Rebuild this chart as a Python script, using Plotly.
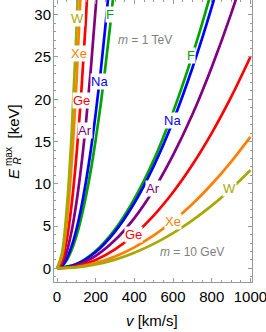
import plotly.graph_objects as go

# ---- data ----
elements = ["W", "Xe", "Ge", "Ar", "Na", "F"]
colors = {"W": "#A8A800", "Xe": "#FF8000", "Ge": "#FF0000",
          "Ar": "#800080", "Na": "#0000FF", "F": "#00A400"}

# m = 1 TeV curves (keV vs km/s)
v_tev = [0, 25, 50, 75, 100, 125, 150, 175, 200, 225, 250, 275, 300]
E_tev = {
    "W":  [0, 1.74, 6.95, 15.6, 27.8, 43.4],
    "Xe": [0, 1.35, 5.40, 12.2, 21.6, 33.8],
    "Ge": [0, 0.83, 3.30, 7.43, 13.2, 20.6, 29.7, 40.5],
    "Ar": [0, 0.48, 1.93, 4.33, 7.70, 12.0, 17.3, 23.6, 30.8, 39.0],
    "Na": [0, 0.29, 1.14, 2.57, 4.57, 7.14, 10.3, 14.0, 18.3, 23.1, 28.6, 34.5],
    "F":  [0, 0.24, 0.95, 2.14, 3.80, 5.94, 8.55, 11.6, 15.2, 19.2, 23.8, 28.7, 34.2],
}

# m = 10 GeV curves
v_gev = [0, 100, 200, 300, 400, 500, 600, 700, 800, 900, 1000]
E_gev = {
    "W":  [0, 0.12, 0.46, 1.04, 1.86, 2.90, 4.18, 5.68, 7.42, 9.40, 11.6],
    "Xe": [0, 0.16, 0.62, 1.40, 2.49, 3.89, 5.60, 7.62, 9.95, 12.6, 15.55],
    "Ge": [0, 0.25, 1.00, 2.25, 4.00, 6.25, 9.00, 12.25, 16.0, 20.25, 25.0],
    "Ar": [0, 0.37, 1.49, 3.35, 5.95, 9.30, 13.4, 18.2, 23.8, 30.1, 37.2],
    "Na": [0, 0.48, 1.93, 4.35, 7.73, 12.1, 17.4, 23.7, 30.9, 39.1],
    "F":  [0, 0.51, 2.05, 4.62, 8.22, 12.8, 18.5, 25.2, 32.9, 41.6],
}

x_ticks = [0, 200, 400, 600, 800, 1000]
y_ticks = [0, 5, 10, 15, 20, 25, 30]

# label positions (v, E)
lab_tev = {"W": (106, 29.6), "Xe": (115, 25.4), "Ge": (128, 19.8),
           "Ar": (145, 16.3), "Na": (222, 22.1), "F": (274, 30.0)}
lab_gev = {"W": (893, 9.4), "Xe": (598, 5.55), "Ge": (394, 3.98),
           "Ar": (495, 9.4), "Na": (596, 17.5), "F": (694, 25.2)}

FONT = "Liberation Sans, Arial, sans-serif"
FRAME = "#9a9a9a"

fig = go.Figure()
for el in reversed(elements):
    for vv, EE in ((v_gev, E_gev[el]), (v_tev, E_tev[el])):
        fig.add_trace(go.Scatter(
            x=vv[:len(EE)], y=EE, mode="lines",
            line=dict(color=colors[el], width=2.7, shape="spline"),
            showlegend=False, hoverinfo="skip"))

ann = []
for lab in (lab_tev, lab_gev):
    for el, (x, y) in lab.items():
        ann.append(dict(x=x, y=y, xref="x", yref="y", text=el, showarrow=False,
                        xanchor="center", yanchor="middle",
                        font=dict(family=FONT, size=13, color=colors[el]),
                        bgcolor="white", borderpad=0))

ann.append(dict(x=455, y=27.0, xref="x", yref="y", text="<i>m</i> = 1 TeV",
                xanchor="center", yanchor="middle",
                showarrow=False, font=dict(family=FONT, size=12, color="#808080")))
ann.append(dict(x=700, y=1.9, xref="x", yref="y", text="<i>m</i> = 10 GeV",
                xanchor="center", yanchor="middle",
                showarrow=False, font=dict(family=FONT, size=12, color="#808080")))

# axis titles (pixel -> paper conversion)
L, W_, H_ = 54, 198, 282.0
def px(xp): return (xp - L) / W_
def py(yp): return (H_ - yp) / H_

def title_piece(x, y, text, size, angle=0):
    return dict(x=px(x), y=py(y), xref="paper", yref="paper", text=text,
                textangle=angle, showarrow=False, xanchor="center", yanchor="middle",
                font=dict(family=FONT, size=size, color="black"))

ann.append(title_piece(152, 320, "<i>v</i> [km/s]", 15))
ann.append(title_piece(13.5, 173.5, "<i>E</i>", 15, -90))
ann.append(title_piece(8.5, 156.5, "max", 10, -90))
ann.append(title_piece(17.0, 161.5, "<i>R</i>", 10, -90))
ann.append(title_piece(13.5, 122, "[keV]", 15, -90))

axis_common = dict(showline=True, linecolor=FRAME, linewidth=1, mirror="ticks",
                   ticks="inside", ticklen=4, tickcolor=FRAME, tickwidth=1,
                   showgrid=False, zeroline=False, ticklabeloverflow="allow")

fig.update_layout(
    width=266, height=332,
    margin=dict(l=54, r=14, t=0, b=50),
    paper_bgcolor="white", plot_bgcolor="white",
    xaxis=dict(range=[-15.5, 1008.3], tickvals=x_ticks, ticklabelstandoff=1,
               tickfont=dict(family=FONT, size=15, color="black"),
               minor=dict(dtick=50, tick0=0, ticks="inside", ticklen=2, tickcolor=FRAME),
               **axis_common),
    yaxis=dict(range=[-1.61, 31.74], tickvals=y_ticks, ticklabelstandoff=-1,
               tickfont=dict(family=FONT, size=15, color="black"),
               minor=dict(dtick=1, tick0=0, ticks="inside", ticklen=2, tickcolor=FRAME),
               **axis_common),
    annotations=ann,
)

fig.write_html("out.html", config={"displayModeBar": False},
               post_script="document.body.style.margin='0';document.body.style.overflow='hidden';")
